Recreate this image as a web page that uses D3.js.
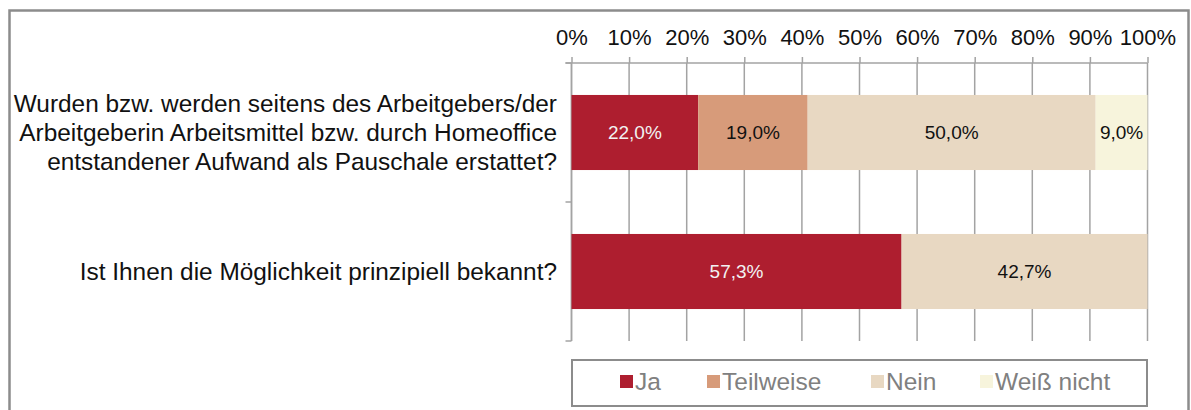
<!DOCTYPE html>
<html>
<head>
<meta charset="utf-8">
<script src="https://cdn.jsdelivr.net/npm/d3@7"></script>
<style>
  html, body { margin: 0; padding: 0; background: #fff; }
  svg { display: block; font-family: "Liberation Sans", Arial, sans-serif; }
</style>
</head>
<body>
<svg id="chart" width="1191" height="410"></svg>
<script>
// Survey questions (top to bottom), each label split into its display lines
const questions = ["q1", "q2"];
const questionLines = [
  ["Wurden bzw. werden seitens des Arbeitgebers/der",
   "Arbeitgeberin Arbeitsmittel bzw. durch Homeoffice",
   "entstandener Aufwand als Pauschale erstattet?"],
  ["Ist Ihnen die Möglichkeit prinzipiell bekannt?"]
];

// Answer categories and their shares (%) per question
const answers = ["Ja", "Teilweise", "Nein", "Weiß nicht"];
const ja        = [22.0, 57.3];
const teilweise = [19.0, 0];
const nein      = [50.0, 42.7];
const weissNicht = [9.0, 0];

const answerColors = ["#AE1E2F", "#D79B7A", "#E8D8C2", "#F7F4DC"];
const labelColors  = ["#F2F2F2", "#111", "#111", "#111"];

const tickValues = [0, 10, 20, 30, 40, 50, 60, 70, 80, 90, 100];

const series = [ja, teilweise, nein, weissNicht];
const rows = questions.map((q, i) => {
  const r = { q };
  answers.forEach((a, k) => { r[a] = series[k][i]; });
  return r;
});
const stacked = d3.stack().keys(answers)(rows);

const svg = d3.select("#chart");

// outer frame
svg.append("rect")
  .attr("x", 9.5).attr("y", 10.5).attr("width", 1179).attr("height", 420)
  .attr("fill", "none").attr("stroke", "#8c8c8c").attr("stroke-width", 2.5);

const x = d3.scaleLinear().domain([0, 100]).range([571.5, 1147.5]);
const y = d3.scaleBand().domain(questions).range([63, 341])
  .paddingInner(0.46).paddingOuter(0.23);

const gridColor = "#a3a3a3";

// vertical gridlines
svg.append("g").selectAll("line").data(tickValues).join("line")
  .attr("x1", d => x(d)).attr("x2", d => x(d))
  .attr("y1", 63).attr("y2", 341)
  .attr("stroke", gridColor).attr("stroke-width", 1.5);

// top value axis
const xAxis = svg.append("g").attr("transform", "translate(0,63)")
  .call(d3.axisTop(x).tickValues(tickValues).tickSize(6).tickSizeOuter(0)
    .tickFormat(d => d + "%"));
xAxis.select(".domain").attr("stroke", gridColor).attr("stroke-width", 1.5)
  .attr("d", `M${x(0) - 6},0H${x(100)}`);
xAxis.selectAll(".tick line").attr("stroke", gridColor).attr("stroke-width", 1.5);
xAxis.selectAll(".tick text")
  .attr("font-family", "Liberation Sans, Arial, sans-serif")
  .attr("font-size", 22).attr("fill", "#111").attr("dy", "-9");

// left category axis with ticks at category boundaries
const half = (y.step() - y.bandwidth()) / 2;
const bounds = questions.map(q => y(q) - half).concat([y(questions[questions.length - 1]) + y.bandwidth() + half]);
svg.append("line")
  .attr("x1", x(0)).attr("x2", x(0)).attr("y1", 63).attr("y2", 341)
  .attr("stroke", gridColor).attr("stroke-width", 1.5);
svg.append("g").selectAll("line").data(bounds).join("line")
  .attr("x1", x(0) - 6).attr("x2", x(0))
  .attr("y1", d => d).attr("y2", d => d)
  .attr("stroke", gridColor).attr("stroke-width", 1.5);

// question labels
svg.append("g").selectAll("text").data(questions).join("text")
  .attr("text-anchor", "end")
  .attr("font-size", 24.4).attr("fill", "#111")
  .each(function (q, i) {
    const lines = questionLines[i];
    const cy = y(q) + y.bandwidth() / 2;
    const lh = 29;
    const t = d3.select(this);
    lines.forEach((ln, j) => {
      t.append("tspan")
        .attr("x", 557)
        .attr("y", cy + (j - (lines.length - 1) / 2) * lh)
        .attr("dy", "0.35em")
        .text(ln);
    });
  });

// stacked bars
const layers = svg.append("g").selectAll("g").data(stacked).join("g")
  .attr("fill", (d, i) => answerColors[i]);
layers.selectAll("rect").data(d => d.map(v => ({ v, q: v.data.q })))
  .join("rect")
  .attr("x", d => x(d.v[0]))
  .attr("width", d => x(d.v[1]) - x(d.v[0]))
  .attr("y", d => y(d.q))
  .attr("height", y.bandwidth());

// value labels
const fmt = v => v.toFixed(1).replace(".", ",") + "%";
stacked.forEach((layer, i) => {
  svg.append("g").selectAll("text")
    .data(layer.filter(v => v[1] - v[0] > 0))
    .join("text")
    .attr("x", d => (x(d[0]) + x(d[1])) / 2)
    .attr("y", d => y(d.data.q) + y.bandwidth() / 2)
    .attr("dy", "0.35em")
    .attr("text-anchor", "middle")
    .attr("font-size", 19)
    .attr("fill", labelColors[i])
    .text(d => fmt(d[1] - d[0]));
});

// legend
const legend = svg.append("g");
legend.append("rect")
  .attr("x", 572).attr("y", 360).attr("width", 575).attr("height", 46)
  .attr("fill", "#fff").attr("stroke", "#8c8c8c").attr("stroke-width", 2);
const legendX = [620, 707, 871, 980];
answers.forEach((a, i) => {
  legend.append("rect")
    .attr("x", legendX[i]).attr("y", 375).attr("width", 13).attr("height", 13)
    .attr("fill", answerColors[i]);
  legend.append("text")
    .attr("x", legendX[i] + 15).attr("y", 381).attr("dy", "0.35em")
    .attr("font-size", 24.5).attr("fill", "#808080")
    .text(a);
});
</script>
</body>
</html>
